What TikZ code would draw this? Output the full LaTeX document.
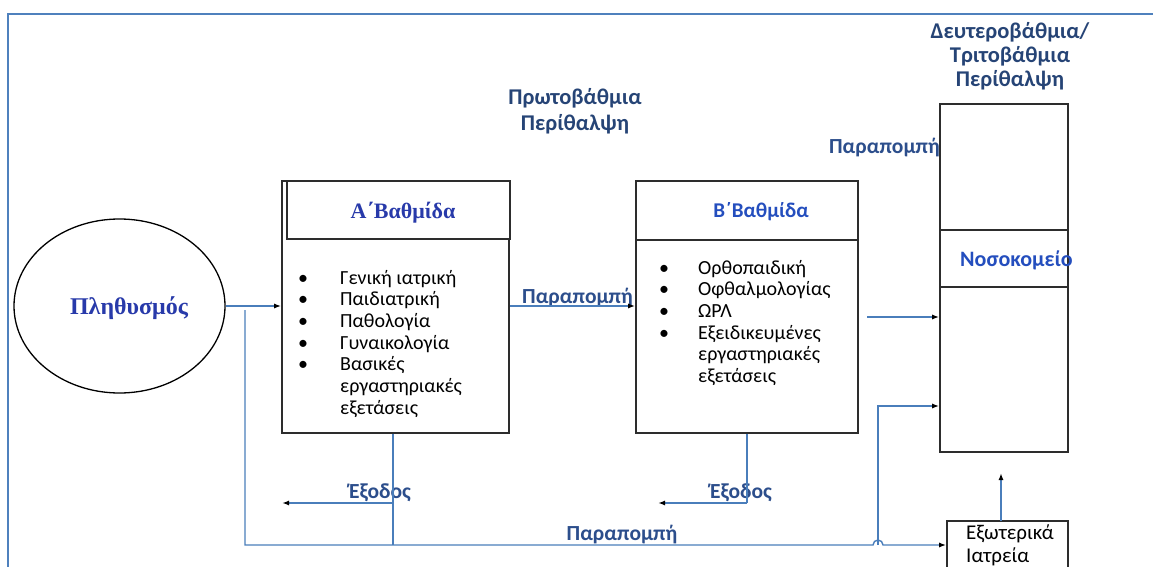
\documentclass[tikz,border=0pt]{standalone}
\usepackage{fontspec}
\setmainfont{Carlito}
\newfontfamily\serifgr{Liberation Serif}
\usetikzlibrary{shapes.geometric,arrows.meta,calc}
\definecolor{linecol}{RGB}{74,126,187}
\definecolor{framecol}{RGB}{79,129,189}
\definecolor{titlecol}{RGB}{38,68,118}
\definecolor{labcol}{RGB}{44,78,140}
\definecolor{brightblue}{RGB}{36,78,190}
\definecolor{serifblue}{RGB}{40,58,170}
\definecolor{boxcol}{RGB}{45,45,45}
\tikzset{
  box/.style={draw=boxcol,line width=1.6pt,rectangle,inner sep=0pt},
  conn/.style={draw=linecol,line width=1.4pt},
  arr/.style={conn,-{Latex[length=7pt,width=5pt,color=black]}},
  title/.style={font=\fontsize{22.5}{25}\selectfont\bfseries,text=titlecol,align=center},
  lab/.style={font=\fontsize{21.5}{24}\selectfont\bfseries,text=labcol,inner sep=0pt},
  listtxt/.style={font=\fontsize{20}{21.7}\selectfont,inner sep=0pt,anchor=base west}
}
\begin{document}
\begin{tikzpicture}[x=1pt,y=-1pt]
\useasboundingbox[fill=white] (0,0) rectangle (1153,567);
% frame
\draw[draw=framecol,line width=2pt] (8,570) -- (8,14) -- (1156,14);

% population
\node[ellipse,draw=black,line width=1.3pt,minimum width=211,minimum height=174] (pop) at (119.5,306) {};
\node[font=\serifgr\fontsize{24}{26}\selectfont\bfseries,text=serifblue] (poptxt) at (129,308) {Πληθυσμός};

% box A
\node[box,minimum width=227,minimum height=252] (boxA) at (395.5,307) {};
\node[box,minimum width=223,minimum height=58,fill=white] (hdrA) at (398.5,210) {};
\node[font=\serifgr\fontsize{22}{24}\selectfont\bfseries,text=serifblue] (hdrAt) at (403,213) {Α΄Βαθμίδα};
\node[listtxt] (listA) at (298,284) {\begin{tabular}[t]{@{}p{42pt}@{}l@{}}
•&Γενική ιατρική\\
•&Παιδιατρική\\
•&Παθολογία\\
•&Γυναικολογία\\
•&Βασικές\\
&εργαστηριακές\\
&εξετάσεις
\end{tabular}};

% box B
\node[box,minimum width=222,minimum height=252] (boxB) at (747,307) {};
\node[box,minimum width=222,minimum height=59] (hdrB) at (747,210.5) {};
\node[font=\fontsize{21}{24}\selectfont\bfseries,text=brightblue] (hdrBt) at (761,212) {Β΄Βαθμίδα};
\node[listtxt] (listB) at (659,274) {\begin{tabular}[t]{@{}p{39pt}@{}l@{}}
•&Ορθοπαιδική\\
•&Οφθαλμολογίας\\
•&ΩΡΛ\\
•&Εξειδικευμένες\\
&εργαστηριακές\\
&εξετάσεις
\end{tabular}};

% hospital
\node[box,minimum width=128,minimum height=348] (hosp) at (1004,278) {};
\node[box,minimum width=128,minimum height=57] (hospmid) at (1004,258.5) {};
\node[font=\fontsize{22}{24}\selectfont\bfseries,text=brightblue,anchor=west,inner sep=0pt] (hosptxt) at (960,260) {Νοσοκομείο};

% outpatient
\node[box,minimum width=121,minimum height=70] (ext) at (1007.5,556) {};
\node[font=\fontsize{21}{23}\selectfont,anchor=north west,inner sep=0pt,align=left] (exttxt) at (966,525) {Εξωτερικά\\Ιατρεία};

% titles
\node[title] (t1) at (575,111) {Πρωτοβάθμια\\[1pt]Περίθαλψη};
\node[title] (t2) at (1010,56) {Δευτεροβάθμια/\\[-1pt]Τριτοβάθμια\\[-1pt]Περίθαλψη};

% labels
\node[lab,anchor=east] (refH) at (940,148) {Παραπομπή};
\node[lab,anchor=west] (refAB) at (522,298) {Παραπομπή};
\node[lab] (refBot) at (622,535) {Παραπομπή};
\node[lab] (exA) at (380,493) {Έξοδος};
\node[lab] (exB) at (741,493) {Έξοδος};

% coordinates
\coordinate (popv) at (245,310);
\coordinate (jmp) at (878,545);
\coordinate (aDown) at ($(boxA.south)+(-2.5,0)$);
\coordinate (botA) at (aDown |- jmp);
\coordinate (exitA) at (282,503);
\coordinate (exitB) at (658,503);
\coordinate (fromB) at (867,317);
\coordinate (upto) at (878,406);
\coordinate (extup) at (1001,521);
\coordinate (extend) at (1001,473);

% connectors
\draw[arr] (pop.east) -- (pop.east -| boxA.west);
\draw[arr] (boxA.east |- pop.east) -- (boxB.west |- pop.east);
\draw[arr] (popv) |- ($(jmp)+(-5,0)$) arc[start angle=180,end angle=0,radius=5pt] -- (ext.west |- jmp);
\draw[conn] (aDown) -- (botA);
\draw[arr] (aDown |- exitA) -- (exitA);
\draw[conn] (boxB.south) -- (boxB.south |- exitB);
\draw[arr] (boxB.south |- exitB) -- (exitB);
\draw[arr] (fromB) -- (hosp.west |- fromB);
\draw[arr] (jmp) -- (upto) -- (hosp.west |- upto);
\draw[arr] (extup) -- (extend);
\end{tikzpicture}
\end{document}
